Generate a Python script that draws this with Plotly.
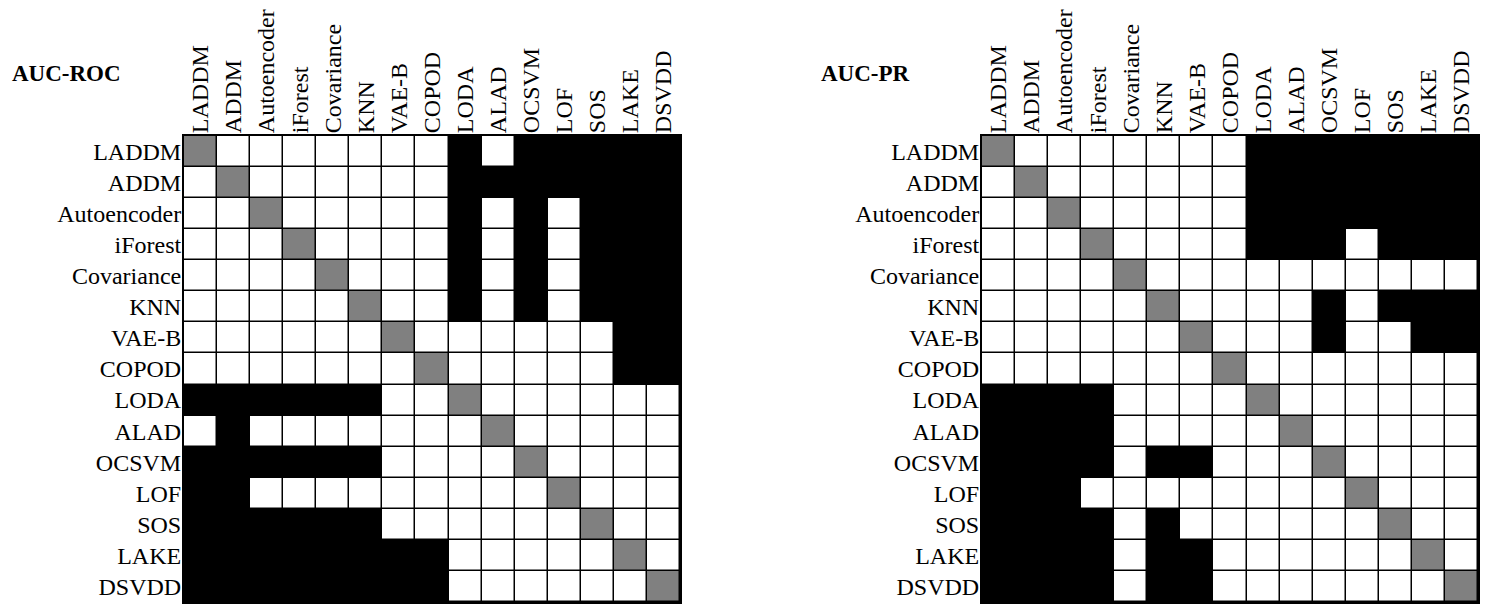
import plotly.graph_objects as go

methods = ["LADDM", "ADDM", "Autoencoder", "iForest", "Covariance", "KNN", "VAE-B",
           "COPOD", "LODA", "ALAD", "OCSVM", "LOF", "SOS", "LAKE", "DSVDD"]

# 1 = significant difference (black), 0 = none (white), 2 = self (gray)
auc_roc = [
    [2, 0, 0, 0, 0, 0, 0, 0, 1, 0, 1, 1, 1, 1, 1],
    [0, 2, 0, 0, 0, 0, 0, 0, 1, 1, 1, 1, 1, 1, 1],
    [0, 0, 2, 0, 0, 0, 0, 0, 1, 0, 1, 0, 1, 1, 1],
    [0, 0, 0, 2, 0, 0, 0, 0, 1, 0, 1, 0, 1, 1, 1],
    [0, 0, 0, 0, 2, 0, 0, 0, 1, 0, 1, 0, 1, 1, 1],
    [0, 0, 0, 0, 0, 2, 0, 0, 1, 0, 1, 0, 1, 1, 1],
    [0, 0, 0, 0, 0, 0, 2, 0, 0, 0, 0, 0, 0, 1, 1],
    [0, 0, 0, 0, 0, 0, 0, 2, 0, 0, 0, 0, 0, 1, 1],
    [1, 1, 1, 1, 1, 1, 0, 0, 2, 0, 0, 0, 0, 0, 0],
    [0, 1, 0, 0, 0, 0, 0, 0, 0, 2, 0, 0, 0, 0, 0],
    [1, 1, 1, 1, 1, 1, 0, 0, 0, 0, 2, 0, 0, 0, 0],
    [1, 1, 0, 0, 0, 0, 0, 0, 0, 0, 0, 2, 0, 0, 0],
    [1, 1, 1, 1, 1, 1, 0, 0, 0, 0, 0, 0, 2, 0, 0],
    [1, 1, 1, 1, 1, 1, 1, 1, 0, 0, 0, 0, 0, 2, 0],
    [1, 1, 1, 1, 1, 1, 1, 1, 0, 0, 0, 0, 0, 0, 2],
]

auc_pr = [
    [2, 0, 0, 0, 0, 0, 0, 0, 1, 1, 1, 1, 1, 1, 1],
    [0, 2, 0, 0, 0, 0, 0, 0, 1, 1, 1, 1, 1, 1, 1],
    [0, 0, 2, 0, 0, 0, 0, 0, 1, 1, 1, 1, 1, 1, 1],
    [0, 0, 0, 2, 0, 0, 0, 0, 1, 1, 1, 0, 1, 1, 1],
    [0, 0, 0, 0, 2, 0, 0, 0, 0, 0, 0, 0, 0, 0, 0],
    [0, 0, 0, 0, 0, 2, 0, 0, 0, 0, 1, 0, 1, 1, 1],
    [0, 0, 0, 0, 0, 0, 2, 0, 0, 0, 1, 0, 0, 1, 1],
    [0, 0, 0, 0, 0, 0, 0, 2, 0, 0, 0, 0, 0, 0, 0],
    [1, 1, 1, 1, 0, 0, 0, 0, 2, 0, 0, 0, 0, 0, 0],
    [1, 1, 1, 1, 0, 0, 0, 0, 0, 2, 0, 0, 0, 0, 0],
    [1, 1, 1, 1, 0, 1, 1, 0, 0, 0, 2, 0, 0, 0, 0],
    [1, 1, 1, 0, 0, 0, 0, 0, 0, 0, 0, 2, 0, 0, 0],
    [1, 1, 1, 1, 0, 1, 0, 0, 0, 0, 0, 0, 2, 0, 0],
    [1, 1, 1, 1, 0, 1, 1, 0, 0, 0, 0, 0, 0, 2, 0],
    [1, 1, 1, 1, 0, 1, 1, 0, 0, 0, 0, 0, 0, 0, 2],
]

titles = ["AUC-ROC", "AUC-PR"]

# the page body has an 8px margin, so the figure is offset by 8px
OFF = 8
W, H = 1491 - 2 * OFF, 616 - 2 * OFF
FONT = "Liberation Serif, Times New Roman, serif"

cscale = [[0, "white"], [0.333, "white"], [0.333, "black"], [0.667, "black"],
          [0.667, "#808080"], [1, "#808080"]]

fig = go.Figure()
for i, z in enumerate([auc_roc, auc_pr]):
    sfx = "" if i == 0 else "2"
    fig.add_trace(go.Heatmap(
        z=z, x=methods, y=methods, zmin=0, zmax=2, colorscale=cscale,
        showscale=False, xgap=1.5, ygap=1.5,
        xaxis="x" + sfx, yaxis="y" + sfx, hoverinfo="skip"))

# page-pixel positions of the two grids
left_px = [184, 982]
right_px = [680, 1478]
top_px, bot_px = 136, 602
title_x = [10, 819]
title_y = 74


def px_x(v):
    return (v - OFF) / W


def px_y(v):
    return 1 - (v - OFF) / H


axis_common = dict(type="category", showgrid=False, zeroline=False, ticks="",
                   showline=True, mirror=True, linecolor="black", linewidth=2,
                   automargin=False, ticklabelstandoff=-4,
                   tickfont=dict(family=FONT, size=24, color="black"),
                   fixedrange=True)
layout = {}
annotations = []
for i in range(2):
    sfx = "" if i == 0 else "2"
    layout["xaxis" + sfx] = dict(axis_common, side="top", tickangle=-90,
                                 domain=[px_x(left_px[i]), px_x(right_px[i])],
                                 anchor="y" + sfx)
    layout["yaxis" + sfx] = dict(axis_common, autorange="reversed",
                                 domain=[px_y(bot_px), px_y(top_px)],
                                 anchor="x" + sfx)
    annotations.append(dict(
        text="<b>" + titles[i] + "</b>", x=px_x(title_x[i]), y=px_y(title_y),
        xref="paper", yref="paper", xanchor="left", yanchor="middle",
        showarrow=False, font=dict(family=FONT, size=23, color="black")))

fig.update_layout(**layout)
fig.update_layout(
    template="none",
    width=W, height=H, margin=dict(l=0, r=0, t=0, b=0, autoexpand=False),
    paper_bgcolor="white", plot_bgcolor="black",
    annotations=annotations,
)

fig.write_html("out.html")
